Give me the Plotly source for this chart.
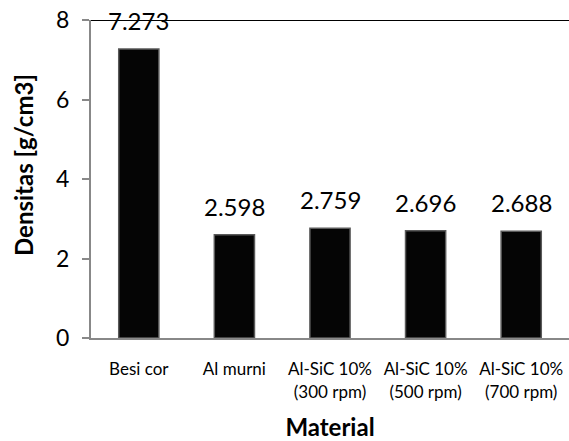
import plotly.graph_objects as go

categories = ["Besi cor", "Al murni", "Al-SiC 10%<br>(300 rpm)", "Al-SiC 10%<br>(500 rpm)", "Al-SiC 10%<br>(700 rpm)"]
densities = [7.273, 2.598, 2.759, 2.696, 2.688]
labels = ["7.273", "2.598", "2.759", "2.696", "2.688"]
y_ticks = [0, 2, 4, 6, 8]
y_max = 8
y_title = "<b>Densitas [g/cm3]</b>"
x_title = "<b>Material</b>"

FONT = "Lato, Calibri, Carlito, sans-serif"

fig = go.Figure()
fig.add_trace(go.Bar(
    x=categories, y=densities,
    marker=dict(color="#050505", line=dict(color="#5a5a5a", width=1.5)),
    width=0.42,
    hoverinfo="x+y",
))

for c, v, t in zip(categories, densities, labels):
    fig.add_annotation(x=c, y=v, text=t, showarrow=False, yanchor="bottom",
                       yshift=12, font=dict(family=FONT, size=24, color="black"))

# y-axis title (as a rotated annotation so it can sit slightly above centre, as in the reference)
fig.add_annotation(text=y_title, textangle=-90, showarrow=False,
                   xref="paper", yref="paper", x=0, y=0.5, xanchor="center", yanchor="middle",
                   xshift=-68, yshift=14, font=dict(family=FONT, size=24, color="black"))

fig.add_shape(type="line", xref="paper", yref="y", x0=0, x1=1, y0=y_max, y1=y_max,
              line=dict(color="black", width=2))

fig.update_layout(
    width=569, height=441,
    margin=dict(l=91, r=0, t=20, b=103),
    plot_bgcolor="white", paper_bgcolor="white",
    showlegend=False,
    font=dict(family=FONT, color="black"),
)
fig.update_xaxes(
    automargin=False,
    showline=True, linecolor="#888888", linewidth=2,
    ticks="outside", ticklen=15, tickcolor="rgba(0,0,0,0)",
    tickfont=dict(family=FONT, size=17, color="black"),
    title=dict(text=x_title, font=dict(family=FONT, size=24, color="black"), standoff=20),
)
fig.update_yaxes(
    automargin=False,
    range=[0, y_max], tickvals=y_ticks, showgrid=False, zeroline=False,
    showline=True, linecolor="#888888", linewidth=2,
    ticks="outside", ticklen=7, tickcolor="#888888", tickwidth=2,
    ticklabelstandoff=8, ticklabeloverflow="allow",
    tickfont=dict(family=FONT, size=23, color="black"),
)

fig.write_html("out.html", config={"displayModeBar": False},
               post_script="document.body.style.margin='0';")
